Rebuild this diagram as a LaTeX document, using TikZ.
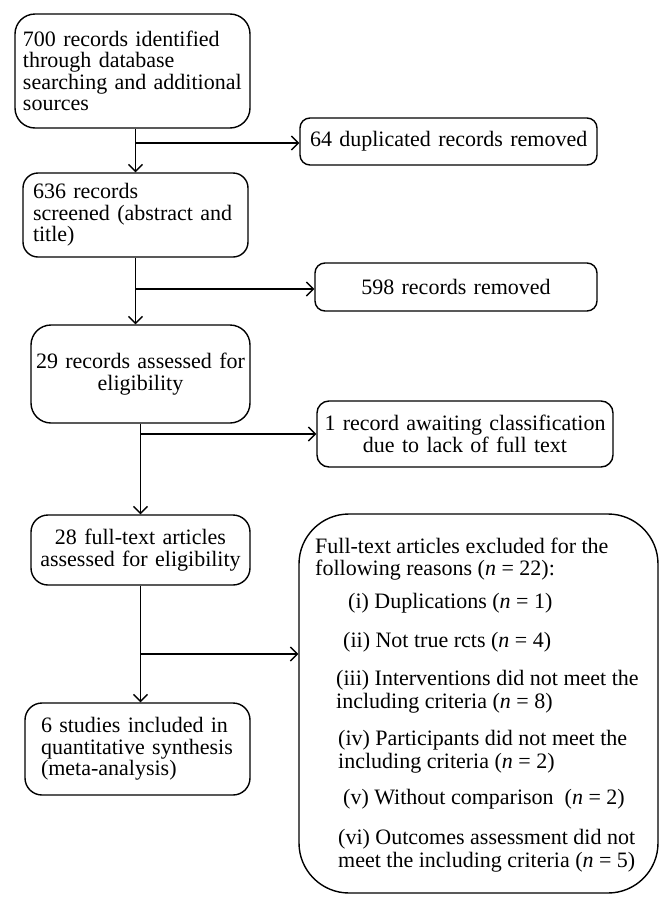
\documentclass[tikz,border=0pt]{standalone}
\usepackage{fontspec}
\setmainfont{Liberation Serif}
\usetikzlibrary{arrows.meta,calc}
\newcommand\bxfont{\fontsize{22}{21.5}\selectfont}
\begin{document}
\begin{tikzpicture}[x=1pt,y=-1pt,
  box/.style={draw, line width=1.4pt, inner ysep=0pt, font=\bxfont},
  arr/.style={line width=1.4pt, -{Straight Barb[length=7pt,width=14pt]}},
  txt/.style={anchor=base west, inner sep=0pt, font=\bxfont}]
\useasboundingbox (0,0) rectangle (672,908);

\node[box, rounded corners=20pt, inner xsep=8pt, text width=219pt, minimum height=114pt, align=left] (b1) at (132.5,71)
  {\mbox{700 records identified}\\ \mbox{through database}\\ \mbox{searching and additional}\\ \mbox{sources}};
\node[box, rounded corners=10pt, inner xsep=10pt, text width=277pt, minimum height=47pt, align=left] (b2) at (448.5,141.5)
  {\mbox{64 duplicated records removed}};
\node[box, rounded corners=15pt, inner xsep=10pt, text width=205pt, minimum height=84pt, align=left] (b3) at (135.5,215)
  {\mbox{636 records}\\ \mbox{screened (abstract and}\\ \mbox{title)}};
\node[box, rounded corners=10pt, inner xsep=2pt, text width=278pt, minimum height=48pt, align=center] (b4) at (456,287)
  {598 records removed};
\node[box, rounded corners=20pt, inner xsep=2pt, text width=215pt, minimum height=98pt, align=center] (b5) at (140.5,374)
  {\mbox{29 records assessed for}\\ eligibility};
\node[box, rounded corners=12pt, inner xsep=2pt, text width=292pt, minimum height=66pt, align=center] (b6) at (465,434)
  {\mbox{1 record awaiting classification}\\ \mbox{due to lack of full text}};
\node[box, rounded corners=17pt, inner xsep=2pt, text width=215pt, minimum height=70pt, align=center] (b7) at (140.5,550)
  {\mbox{28 full-text articles}\\ \mbox{assessed for eligibility}};
\node[box, rounded corners=17pt, inner xsep=16pt, text width=193pt, minimum height=92pt, align=left] (b8) at (137.5,749)
  {\mbox{6 studies included in}\\ \mbox{quantitative synthesis}\\ \mbox{(meta-analysis)}};
\node[box, rounded corners=50pt, minimum width=359pt, minimum height=379pt] (b9) at (478.5,703.5) {};

\node[txt] (e1) at (315,553) {Full-text articles excluded for the};
\node[txt] (e2) at (315,575) {following reasons (\textit{n} = 22):};
\node[txt] (e3) at (348,608) {(i) Duplications (\textit{n} = 1)};
\node[txt] (e4) at (343,647) {(ii) Not true rcts (\textit{n} = 4)};
\node[txt] (e5) at (336,685) {(iii) Interventions did not meet the};
\node[txt] (e6) at (336,708) {including criteria (\textit{n} = 8)};
\node[txt] (e7) at (338,745) {(iv) Participants did not meet the};
\node[txt] (e8) at (338,768) {including criteria (\textit{n} = 2)};
\node[txt] (e9) at (343,804) {(v) Without comparison\ \ (\textit{n} = 2)};
\node[txt] (e10) at (338,844) {(vi) Outcomes assessment did not};
\node[txt] (e11) at (338,867) {meet the including criteria (\textit{n} = 5)};

% connectors
\draw[arr] (b1.south -| b3.north) -- (b3.north);
\coordinate (j1) at (b3.north |- 0,143);
\draw[arr] (j1) -- (j1 -| b2.west);

\draw[arr] (b3.south) -- (b3.south |- b5.north);
\coordinate (j2) at (b3.south |- 0,289);
\draw[arr] (j2) -- (j2 -| b4.west);

\draw[arr] (b5.south) -- (b5.south |- b7.north);
\coordinate (j3) at (b5.south |- 0,434);
\draw[arr] (j3) -- (j3 -| b6.west);

\draw[arr] (b7.south) -- (b7.south |- b8.north);
\coordinate (j4) at (b7.south |- 0,654);
\draw[arr] (j4) -- (j4 -| b9.west);
\end{tikzpicture}
\end{document}
